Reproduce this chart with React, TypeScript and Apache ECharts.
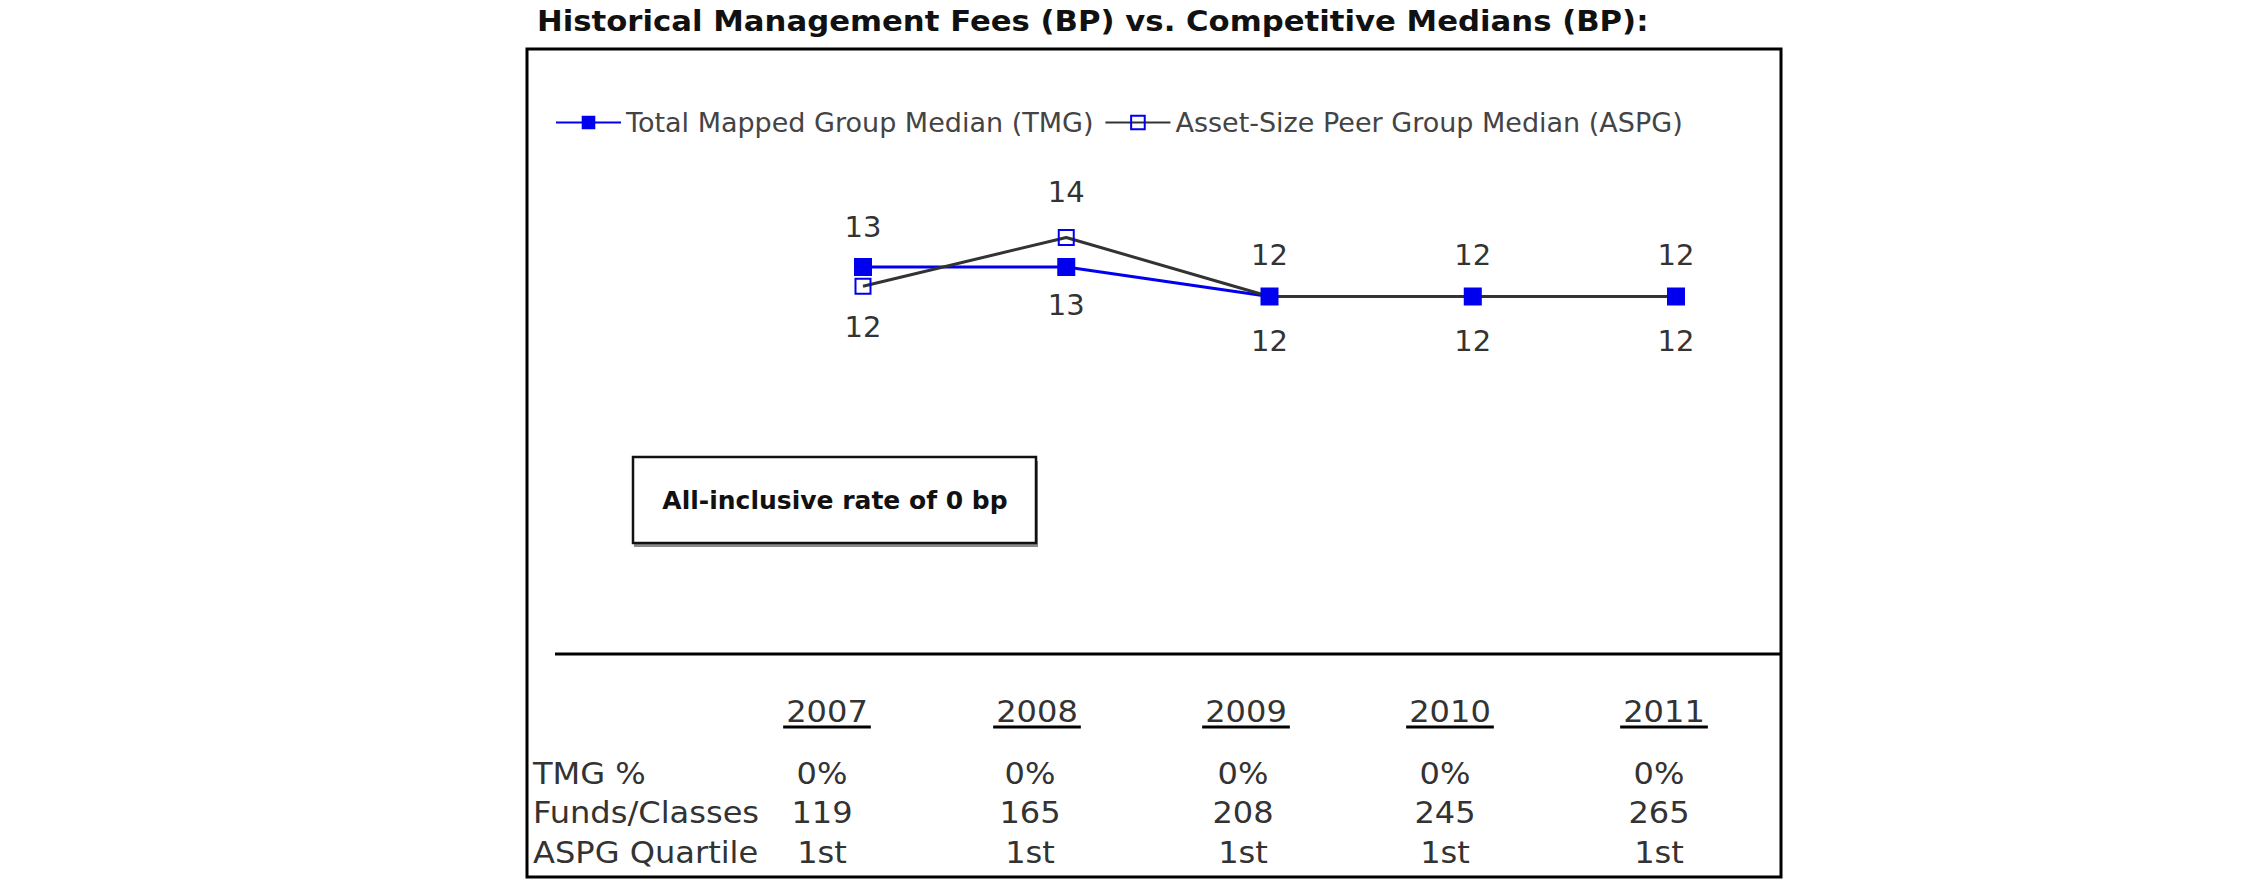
import React, { useEffect, useRef } from 'react';
import * as echarts from 'echarts';

// ---------- data ----------
const years = ['2007', '2008', '2009', '2010', '2011'];
const tmgMedian = [13, 13, 12, 12, 12];
const aspgMedian = [12.35, 14, 12, 12, 12];
const seriesNames = ['Total Mapped Group Median (TMG)', 'Asset-Size Peer Group Median (ASPG)'];
const rowLabels = ['TMG %', 'Funds/Classes', 'ASPG Quartile'];
const tmgPercent = ['0%', '0%', '0%', '0%', '0%'];
const fundsClasses = ['119', '165', '208', '245', '265'];
const aspgQuartile = ['1st', '1st', '1st', '1st', '1st'];
const titleText = 'Historical Management Fees (BP) vs. Competitive Medians (BP):';
const noteText = 'All-inclusive rate of 0 bp';

// ---------- layout ----------
const FONT = '"DejaVu Sans", Verdana, sans-serif';
const tmgLabelSide = ['top', 'bottom', 'top', 'top', 'top'];
const tmgLabelDist = [17, 14, 18, 18, 18];
const aspgLabelSide = ['bottom', 'top', 'bottom', 'bottom', 'bottom'];
const aspgLabelDist = [18, 23, 21, 21, 21];
const headerX = [827, 1037, 1246, 1450, 1664];
const valueX = [822, 1030, 1243, 1445, 1659];
const headerY = 711;
const rowY = [773, 812.5, 852];
const TABLE_FS = 30;
const TABLE_SX = 1.07;
const BLUE = '#0000ee';

function measure(text: string, font: string): number {
  const c = document.createElement('canvas');
  const ctx = c.getContext('2d');
  if (!ctx) return text.length * 18;
  ctx.font = font;
  return ctx.measureText(text).width;
}

function txt(text: string, x: number, y: number, size: number, align: string, opts: any = {}) {
  return {
    type: 'text',
    x,
    y,
    scaleX: opts.sx || 1,
    silent: true,
    style: {
      text,
      fontSize: size,
      fontFamily: FONT,
      fontWeight: opts.bold ? 'bold' : 'normal',
      fill: opts.color || '#333',
      textAlign: align,
      align,
      textVerticalAlign: 'middle',
      verticalAlign: 'middle',
    },
  };
}

export default function App() {
  const ref = useRef<HTMLDivElement>(null);

  useEffect(() => {
    if (!ref.current) return;
    const chart = echarts.init(ref.current, undefined, { renderer: 'svg' });

    const graphics: any[] = [];
    // outer frame
    graphics.push({
      type: 'rect',
      silent: true,
      shape: { x: 527, y: 49, width: 1254, height: 828 },
      style: { fill: 'none', stroke: '#000', lineWidth: 3 },
    });
    // title
    graphics.push(txt(titleText, 537, 21, 29, 'left', { bold: true, color: '#111', sx: 1.06 }));
    // note box shadow + box
    graphics.push({
      type: 'rect',
      silent: true,
      shape: { x: 634, y: 461, width: 404, height: 86 },
      style: { fill: '#8a8a8a' },
    });
    graphics.push({
      type: 'rect',
      silent: true,
      shape: { x: 633, y: 457, width: 403, height: 86 },
      style: { fill: '#fff', stroke: '#111', lineWidth: 2.5 },
    });
    graphics.push(txt(noteText, 835, 500, 25, 'center', { bold: true, color: '#111' }));
    // separator line
    graphics.push({
      type: 'line',
      silent: true,
      shape: { x1: 555, y1: 654, x2: 1781, y2: 654 },
      style: { stroke: '#000', lineWidth: 3 },
    });
    // table headers with underline
    years.forEach((y, i) => {
      graphics.push(txt(y, headerX[i], headerY, TABLE_FS, 'center', { sx: TABLE_SX }));
      const w = measure(y, `${TABLE_FS}px ${FONT}`) * TABLE_SX;
      graphics.push({
        type: 'line',
        silent: true,
        shape: { x1: headerX[i] - w / 2 - 3, y1: 727, x2: headerX[i] + w / 2 + 3, y2: 727 },
        style: { stroke: '#000', lineWidth: 3 },
      });
    });
    const rows = [tmgPercent, fundsClasses, aspgQuartile];
    rowLabels.forEach((lab, r) => {
      graphics.push(txt(lab, 533, rowY[r], TABLE_FS, 'left', { sx: TABLE_SX }));
      rows[r].forEach((v, i) => {
        graphics.push(txt(v, valueX[i], rowY[r], TABLE_FS, 'center', { sx: TABLE_SX }));
      });
    });

    const labelBase = {
      show: true,
      fontSize: 29,
      fontFamily: FONT,
      color: '#333',
      formatter: (p: any) => String(Math.round(p.value)),
    };

    chart.setOption({
      animation: false,
      backgroundColor: '#fff',
      legend: {
        left: 550,
        top: 104,
        itemWidth: 65,
        itemHeight: 17,
        itemGap: 11,
        padding: 5,
        textStyle: { fontSize: 27, fontFamily: FONT, color: '#444' },
        data: seriesNames,
      },
      grid: { left: 863, width: 813, top: 208, height: 147.5 },
      xAxis: { type: 'category', data: years, boundaryGap: false, show: false },
      yAxis: { type: 'value', min: 10, max: 15, show: false, splitLine: { show: false } },
      series: [
        {
          name: seriesNames[0],
          type: 'line',
          symbol: 'rect',
          symbolSize: 18,
          color: BLUE,
          itemStyle: { color: BLUE },
          lineStyle: { color: BLUE, width: 3 },
          data: tmgMedian.map((v, i) => ({
            value: v,
            label: { ...labelBase, position: tmgLabelSide[i], distance: tmgLabelDist[i] },
          })),
        },
        {
          name: seriesNames[1],
          type: 'line',
          symbol: 'rect',
          symbolSize: 15,
          itemStyle: { color: 'transparent', borderColor: BLUE, borderWidth: 2 },
          lineStyle: { color: '#333', width: 3 },
          data: aspgMedian.map((v, i) => ({
            value: v,
            label: { ...labelBase, position: aspgLabelSide[i], distance: aspgLabelDist[i] },
          })),
        },
      ],
      graphic: graphics,
    });

    return () => chart.dispose();
  }, []);

  return (
    <div
      ref={ref}
      style={{ position: 'fixed', left: 0, top: 0, width: 2250, height: 895, background: '#fff' }}
    />
  );
}
